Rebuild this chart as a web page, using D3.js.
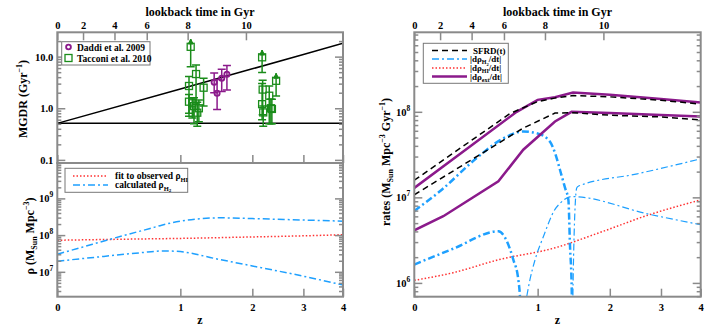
<!DOCTYPE html>
<html lang="en">
<head>
<meta charset="utf-8">
<title>MGDR, densities and rates</title>
<script src="https://cdn.jsdelivr.net/npm/d3@7"></script>
<style>
  body { margin: 0; background: #fff; }
  text { font-family: "Liberation Serif", "DejaVu Serif", serif; font-weight: bold; fill: #000; }
</style>
</head>
<body>
<svg id="fig" width="715" height="330"></svg>
<script>
// ---- data ----
var zTicks = [0, 1, 2, 3, 4];
var lookbackLabels = [0, 2, 4, 6, 8, 10];
var lookbackZ = [0, 0.156, 0.38, 0.655, 1.084, 1.894];

// MGDR panel
var mgdrZ = [0, 1, 2, 3, 4];
var mgdrRising = [0.51, 2.37, 5.8, 11.0, 18.2];
var mgdrFlat = [0.51, 0.51, 0.51, 0.51, 0.51];
// [z, value, low, high]
var daddi = [
  [1.42, 3.2, 2.0, 4.8],
  [1.46, 1.95, 0.95, 3.6],
  [1.525, 3.8, 2.1, 5.7],
  [1.6, 4.55, 2.25, 6.7]
];
// [z, value, low, high, lowerLimit]
var tacconi = [
  [1.12, 15.5, 6.4, 21.9, true],
  [1.185, 4.6, 1.2, 6.9, false],
  [1.10, 2.7, 0.7, 4.1, false],
  [1.28, 2.5, 1.1, 3.8, false],
  [1.10, 1.34, 0.8, 1.85, false],
  [1.16, 1.1, 0.5, 1.6, false],
  [1.14, 1.25, 0.65, 1.6, false],
  [1.2, 0.82, 0.45, 1.3, false],
  [1.22, 1.0, 0.55, 1.45, false],
  [2.17, 9.7, 4.9, 13.4, true],
  [2.43, 3.4, 1.73, 4.75, true],
  [2.18, 2.3, 0.75, 3.5, false],
  [2.30, 1.75, 0.5, 2.7, false],
  [2.17, 1.2, 0.6, 3.0, false],
  [2.33, 1.0, 0.5, 1.5, false],
  [2.19, 0.83, 0.45, 1.1, false],
  [2.35, 0.97, 0.5, 1.5, false]
];

// density panel, [z, log10 rho]
var rhoHI = [[0, 7.86], [0.5, 7.89], [1, 7.91], [2, 7.95], [3, 7.98], [4, 8.01]];
var rhoH2a = [[0, 7.48], [0.15, 7.67], [0.32, 7.86], [0.5, 8.03], [0.686, 8.18], [0.8, 8.27],
  [1, 8.38], [1.2, 8.44], [1.5, 8.47], [2, 8.45], [3, 8.41], [4, 8.38]];
var rhoH2b = [[0, 7.29], [0.3, 7.42], [0.6, 7.52], [0.82, 7.57], [1, 7.55], [1.46, 7.35],
  [2, 7.16], [3, 6.88], [4, 6.64]];

// rates panel, [z, log10 rate]
var sfrdA = [[0, 7.2], [0.712, 7.98], [1.0, 8.12], [1.2, 8.16], [1.44, 8.19], [2, 8.175], [3, 8.135], [4, 8.09]];
var sfrdB = [[0, 7.03], [0.845, 7.81], [1.205, 7.985], [1.42, 7.99], [2, 7.96], [3, 7.94], [4, 7.905]];
var extA = [[0, 7.11], [0.778, 8.0], [1.0, 8.14], [1.205, 8.17], [1.44, 8.225], [2, 8.2], [3, 8.15], [4, 8.11]];
var extB = [[0, 6.615], [0.177, 6.78], [0.604, 7.187], [0.845, 7.557], [1.205, 7.887], [1.42, 8.0],
  [2, 7.986], [3, 7.963], [4, 7.945]];
var h2RateA = [[0, 6.84], [0.167, 7.09], [0.42, 7.46], [0.649, 7.69], [0.845, 7.77], [0.99, 7.75],
  [1.144, 7.65], [1.205, 7.52], [1.268, 7.32], [1.333, 7.11], [1.377, 6.97], [1.399, 6.43],
  [1.422, 5.92], [1.43, 5.5]];
var h2RateA2 = [[1.432, 5.5], [1.45, 6.4], [1.491, 7.11], [1.513, 7.13], [2.5, 7.275], [4, 7.45]];
var h2RateB = [[0, 6.215], [0.245, 6.4], [0.604, 6.603], [0.681, 6.49], [0.745, 6.27], [0.794, 6.04],
  [0.811, 5.84], [0.825, 5.5]];
var h2RateB2 = [[0.835, 5.5], [0.881, 5.84], [0.916, 6.04], [0.971, 6.27], [1.065, 6.54], [1.205, 6.86],
  [1.268, 6.93], [1.42, 7.01], [2.762, 6.8], [4, 6.68]];
var hiRate = [[0, 6.03], [0.245, 6.12], [0.604, 6.27], [1.205, 6.41], [1.84, 6.59], [2.762, 6.8], [4, 6.97]];

// ---- setup ----
var svg = d3.select("#fig");
var gray = "#8a8a8a";
var purple = "#8b1a8b";
var green = "#1a8c1a";
var blue = "#1ea0ff";
var red = "#ff3030";

var xL = d3.scaleLog().domain([1, 5]).range([57.3, 343]);
var xR = d3.scaleLog().domain([1, 5]).range([414.3, 700.7]);
var yMG = d3.scaleLog().domain([0.087, 29.6]).range([163, 32.3]);
var yRho = d3.scaleLog().domain([2.1e6, 9.2e9]).range([296.7, 163]);
var yRate = d3.scaleLog().domain([6.9e5, 8.5e8]).range([296.7, 32.3]);

function minorTicks(y) {
  var d = y.domain(), out = [];
  for (var e = Math.floor(Math.log10(d[0])); e <= Math.ceil(Math.log10(d[1])); e++) {
    for (var m = 2; m < 10; m++) {
      var v = m * Math.pow(10, e);
      if (v >= d[0] && v <= d[1]) out.push(v);
    }
  }
  return out;
}

function styleAxis(g) {
  g.attr("font-family", null).attr("font-size", null);
  g.select(".domain").remove();
  g.selectAll(".tick line").attr("stroke", gray).attr("stroke-width", 1.5);
  g.selectAll(".tick text").attr("font-size", 10.5);
}

function superscriptLabels(g) {
  g.selectAll(".tick text").each(function (d) {
    var t = d3.select(this);
    var e = Math.round(Math.log10(d));
    t.text("10");
    t.append("tspan").attr("dy", -5).attr("font-size", 7.5).text(e);
  });
}

function panel(x, y, majors, opts) {
  var x0 = x.range()[0], x1 = x.range()[1];
  var y0 = y.range()[1], y1 = y.range()[0];
  var minors = minorTicks(y);

  var gl = svg.append("g").attr("transform", "translate(" + x0 + ",0)")
    .call(d3.axisLeft(y).tickValues(majors).tickSize(-8).tickPadding(4).tickFormat(opts.fmt));
  styleAxis(gl);
  if (opts.sup) superscriptLabels(gl);
  styleAxis(svg.append("g").attr("transform", "translate(" + x0 + ",0)")
    .call(d3.axisLeft(y).tickValues(minors).tickSize(-4).tickFormat("")));
  styleAxis(svg.append("g").attr("transform", "translate(" + x1 + ",0)")
    .call(d3.axisRight(y).tickValues(majors).tickSize(-8).tickFormat("")));
  styleAxis(svg.append("g").attr("transform", "translate(" + x1 + ",0)")
    .call(d3.axisRight(y).tickValues(minors).tickSize(-4).tickFormat("")));

  if (opts.top) {
    var gt = svg.append("g").attr("transform", "translate(0," + y0 + ")")
      .call(d3.axisTop(x).tickValues(lookbackZ.map(function (z) { return 1 + z; }))
        .tickSize(-8).tickPadding(3.5)
        .tickFormat(function (d, i) { return lookbackLabels[i]; }));
    styleAxis(gt);
  }
  var gb = svg.append("g").attr("transform", "translate(0," + y1 + ")")
    .call(d3.axisBottom(x).tickValues(zTicks.map(function (z) { return 1 + z; }))
      .tickSize(-8).tickPadding(7)
      .tickFormat(opts.bottom ? function (d) { return Math.round(d - 1); } : ""));
  styleAxis(gb);

  svg.append("rect").attr("x", x0).attr("y", y0)
    .attr("width", x1 - x0).attr("height", y1 - y0)
    .attr("fill", "none").attr("stroke", gray).attr("stroke-width", 2);
}

function clip(id, x, y) {
  var x0 = x.range()[0], x1 = x.range()[1], y0 = y.range()[1], y1 = y.range()[0];
  svg.append("clipPath").attr("id", id).append("rect")
    .attr("x", x0).attr("y", y0).attr("width", x1 - x0).attr("height", y1 - y0);
  return svg.append("g").attr("clip-path", "url(#" + id + ")");
}

function logLine(x, y) {
  return d3.line().curve(d3.curveMonotoneX)
    .x(function (d) { return x(1 + d[0]); })
    .y(function (d) { return y(Math.pow(10, d[1])); });
}

function draw(g, data, gen, color, width, dash) {
  g.append("path").datum(data).attr("d", gen)
    .attr("fill", "none").attr("stroke", color).attr("stroke-width", width)
    .attr("stroke-dasharray", dash || null);
}

// ---- upper left: MGDR ----
var gUL = clip("cUL", xL, yMG);
var mgLine = d3.line().x(function (d) { return xL(1 + d[0]); }).y(function (d) { return yMG(d[1]); });
draw(gUL, mgdrZ.map(function (z, i) { return [z, mgdrRising[i]]; }), mgLine, "#000", 1.5);
draw(gUL, mgdrZ.map(function (z, i) { return [z, mgdrFlat[i]]; }), mgLine, "#000", 1.5);

function errBars(g, data, color) {
  data.forEach(function (d) {
    var cx = xL(1 + d[0]);
    g.append("line").attr("x1", cx).attr("x2", cx)
      .attr("y1", yMG(d[2])).attr("y2", yMG(d[3]))
      .attr("stroke", color).attr("stroke-width", 1.5);
    g.append("line").attr("x1", cx - 4).attr("x2", cx + 4)
      .attr("y1", yMG(d[2])).attr("y2", yMG(d[2]))
      .attr("stroke", color).attr("stroke-width", 1.5);
    if (d[4]) {
      var ty = yMG(d[3]);
      g.append("path").attr("d", "M" + (cx - 2.5) + "," + (ty + 5) + "L" + cx + "," + ty + "L" + (cx + 2.5) + "," + (ty + 5) + "Z")
        .attr("fill", color).attr("stroke", color);
    } else {
      g.append("line").attr("x1", cx - 4).attr("x2", cx + 4)
        .attr("y1", yMG(d[3])).attr("y2", yMG(d[3]))
        .attr("stroke", color).attr("stroke-width", 1.5);
    }
  });
}
errBars(gUL, tacconi, green);
errBars(gUL, daddi, purple);
tacconi.forEach(function (d) {
  gUL.append("rect").attr("x", xL(1 + d[0]) - 3.5).attr("y", yMG(d[1]) - 3.5)
    .attr("width", 7).attr("height", 7).attr("fill", "none")
    .attr("stroke", green).attr("stroke-width", 1.3);
});
daddi.forEach(function (d) {
  gUL.append("circle").attr("cx", xL(1 + d[0])).attr("cy", yMG(d[1])).attr("r", 2.6)
    .attr("fill", "none").attr("stroke", purple).attr("stroke-width", 1.8);
});

panel(xL, yMG, [0.1, 1, 10], { fmt: d3.format(".1f"), top: true, bottom: false });

// legend
svg.append("rect").attr("x", 61.7).attr("y", 41.7).attr("width", 88.3).attr("height", 23.3)
  .attr("fill", "#fff").attr("stroke", "#777").attr("stroke-width", 1);
svg.append("circle").attr("cx", 68.5).attr("cy", 47).attr("r", 2.4)
  .attr("fill", "none").attr("stroke", purple).attr("stroke-width", 1.8);
svg.append("rect").attr("x", 65).attr("y", 54.5).attr("width", 7).attr("height", 7)
  .attr("fill", "none").attr("stroke", green).attr("stroke-width", 1.3);
svg.append("text").attr("x", 77).attr("y", 50.5).attr("font-size", 9.5).text("Daddi et al. 2009");
svg.append("text").attr("x", 77).attr("y", 61.5).attr("font-size", 9.5).text("Tacconi et al. 2010");

// ---- lower left: densities ----
var gLL = clip("cLL", xL, yRho);
draw(gLL, rhoHI, logLine(xL, yRho), red, 1.5, "1.5,2");
draw(gLL, rhoH2a, logLine(xL, yRho), blue, 1.5, "7,3,2,3");
draw(gLL, rhoH2b, logLine(xL, yRho), blue, 1.5, "7,3,2,3");
panel(xL, yRho, [1e7, 1e8, 1e9], { fmt: d3.format(""), sup: true, top: false, bottom: true });

svg.append("rect").attr("x", 65).attr("y", 168.3).attr("width", 122.7).attr("height", 24)
  .attr("fill", "#fff").attr("stroke", "#777").attr("stroke-width", 1);
svg.append("line").attr("x1", 73).attr("x2", 108).attr("y1", 176).attr("y2", 176)
  .attr("stroke", red).attr("stroke-width", 1.5).attr("stroke-dasharray", "1.5,2");
svg.append("line").attr("x1", 73).attr("x2", 108).attr("y1", 185).attr("y2", 185)
  .attr("stroke", blue).attr("stroke-width", 1.5).attr("stroke-dasharray", "7,3,2,3");
var t1 = svg.append("text").attr("x", 115).attr("y", 179).attr("font-size", 9.5).text("fit to observed \u03c1");
t1.append("tspan").attr("dy", 2.5).attr("font-size", 6.5).text("HI");
var t2 = svg.append("text").attr("x", 115).attr("y", 188).attr("font-size", 9.5).text("calculated \u03c1");
t2.append("tspan").attr("dy", 2.5).attr("font-size", 6.5).text("H");
t2.append("tspan").attr("dy", 1.5).attr("font-size", 5).text("2");

// ---- right: rates ----
var gR = clip("cR", xR, yRate);
var rl = logLine(xR, yRate);
var rLin = d3.line().x(function (d) { return xR(1 + d[0]); })
  .y(function (d) { return yRate(Math.pow(10, d[1])); });
draw(gR, hiRate, rl, red, 1.5, "1.5,2");
draw(gR, h2RateA, rl, blue, 2.5, "7,3,2,3");
draw(gR, h2RateA2, rl, blue, 1.2, "7,3,2,3");
draw(gR, h2RateB, rl, blue, 2.5, "7,3,2,3");
draw(gR, h2RateB2, rl, blue, 1.2, "7,3,2,3");
draw(gR, extA, rLin, purple, 2.5);
draw(gR, extB, rLin, purple, 2.5);
draw(gR, sfrdA, rLin, "#000", 1.5, "6,4");
draw(gR, sfrdB, rLin, "#000", 1.5, "6,4");
panel(xR, yRate, [1e6, 1e7, 1e8], { fmt: d3.format(""), sup: true, top: true, bottom: true });

svg.append("rect").attr("x", 423.3).attr("y", 43.3).attr("width", 85).attr("height", 40)
  .attr("fill", "#fff").attr("stroke", "#777").attr("stroke-width", 1);
var legR = [
  { c: "#000", w: 1.5, dash: "6,4", y: 50.5 },
  { c: blue, w: 1.5, dash: "7,3,2,3", y: 59 },
  { c: red, w: 1.5, dash: "1.5,2", y: 68 },
  { c: purple, w: 2.5, dash: null, y: 76.5 }
];
legR.forEach(function (d) {
  svg.append("line").attr("x1", 432).attr("x2", 467).attr("y1", d.y).attr("y2", d.y)
    .attr("stroke", d.c).attr("stroke-width", d.w).attr("stroke-dasharray", d.dash);
});
svg.append("text").attr("x", 473).attr("y", 53.5).attr("font-size", 9).text("SFRD(t)");
function rateLabel(y, sub, sub2) {
  var t = svg.append("text").attr("x", 470).attr("y", y).attr("font-size", 9).text("|d\u03c1");
  t.append("tspan").attr("dy", 2).attr("font-size", 6).text(sub);
  if (sub2) t.append("tspan").attr("dy", 1.5).attr("font-size", 4.5).text(sub2);
  t.append("tspan").attr("dy", sub2 ? -3.5 : -2).text("/dt|");
}
rateLabel(62, "H", "2");
rateLabel(71, "HI");
rateLabel(80, "ext");

// ---- axis titles ----
[200, 557.5].forEach(function (cx) {
  svg.append("text").attr("x", cx).attr("y", 16).attr("text-anchor", "middle")
    .attr("font-size", 12).text("lookback time in Gyr");
  svg.append("text").attr("x", cx).attr("y", 324).attr("text-anchor", "middle")
    .attr("font-size", 12).text("z");
});

var yt1 = svg.append("text").attr("transform", "translate(27,99)rotate(-90)")
  .attr("text-anchor", "middle").attr("font-size", 12).text("MGDR (Gyr");
yt1.append("tspan").attr("dy", -5).attr("font-size", 8).text("\u22121");
yt1.append("tspan").attr("dy", 5).text(")");

var yt2 = svg.append("text").attr("transform", "translate(34,236)rotate(-90)")
  .attr("text-anchor", "middle").attr("font-size", 12).text("\u03c1 (M");
yt2.append("tspan").attr("dy", 3).attr("font-size", 8).text("Sun");
yt2.append("tspan").attr("dy", -3).text(" Mpc");
yt2.append("tspan").attr("dy", -5).attr("font-size", 8).text("\u22123");
yt2.append("tspan").attr("dy", 5).text(")");

var yt3 = svg.append("text").attr("transform", "translate(390,162)rotate(-90)")
  .attr("text-anchor", "middle").attr("font-size", 12).text("rates (M");
yt3.append("tspan").attr("dy", 3).attr("font-size", 8).text("Sun");
yt3.append("tspan").attr("dy", -3).text(" Mpc");
yt3.append("tspan").attr("dy", -5).attr("font-size", 8).text("\u22123");
yt3.append("tspan").attr("dy", 5).text(" Gyr");
yt3.append("tspan").attr("dy", -5).attr("font-size", 8).text("\u22121");
yt3.append("tspan").attr("dy", 5).text(")");
</script>
</body>
</html>
